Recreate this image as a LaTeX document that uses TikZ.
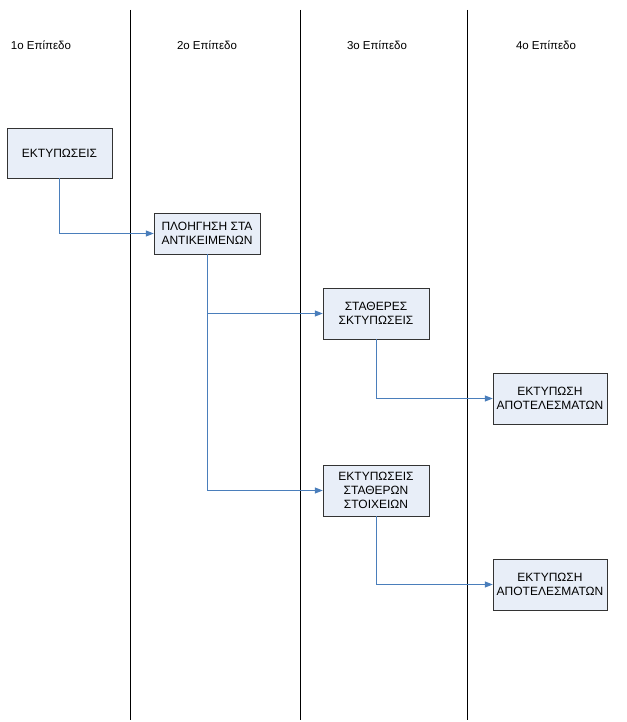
\documentclass[tikz,border=0pt]{standalone}
\usepackage{fontspec}
\setmainfont{Liberation Sans}
\usetikzlibrary{arrows.meta,shadows}
\definecolor{boxfill}{HTML}{E8EEF8}
\definecolor{flowblue}{HTML}{4A7EBB}
\tikzset{
  stage/.style={draw=black!80,fill=boxfill,align=center,inner sep=0pt,
    font=\fontsize{12}{14.3}\selectfont,
    drop shadow={shadow xshift=1pt,shadow yshift=-1pt,fill=black!45,opacity=1}},
  lane/.style={font=\fontsize{11.5}{14}\selectfont},
  flow/.style={->,draw=flowblue,line width=1pt}
}
\begin{document}
\begin{tikzpicture}[x=1pt,y=-1pt,>={Triangle[length=8pt,width=6pt]}]
\useasboundingbox (0,0) rectangle (626,722);
% lanes
\foreach \x in {130,300,467} \draw[black,line width=0.8pt](\x,10)--(\x,720);
\node[lane] (l1) at (41,45) {1o Επίπεδο};
\node[lane] (l2) at (207,45) {2o Επίπεδο};
\node[lane] (l3) at (377,45) {3o Επίπεδο};
\node[lane] (l4) at (546,45) {4o Επίπεδο};
% boxes
\node[stage,minimum width=105pt,minimum height=50pt] (print) at (59.5,153) {ΕΚΤΥΠΩΣΕΙΣ};
\node[stage,minimum width=106pt,minimum height=41pt] (nav) at (207,233.5) {ΠΛΟΗΓΗΣΗ ΣΤΑ\\ΑΝΤΙΚΕΙΜΕΝΩΝ};
\node[stage,minimum width=106pt,minimum height=51pt] (fixed) at (376,313.5) {ΣΤΑΘΕΡΕΣ\\ΣΚΤΥΠΩΣΕΙΣ};
\node[stage,minimum width=114pt,minimum height=51pt] (res1) at (550,398.5) {ΕΚΤΥΠΩΣΗ\\ΑΠΟΤΕΛΕΣΜΑΤΩΝ};
\node[stage,minimum width=106pt,minimum height=51pt] (data) at (376,490.5) {ΕΚΤΥΠΩΣΕΙΣ\\ΣΤΑΘΕΡΩΝ\\ΣΤΟΙΧΕΙΩΝ};
\node[stage,minimum width=114pt,minimum height=51pt] (res2) at (550,584.5) {ΕΚΤΥΠΩΣΗ\\ΑΠΟΤΕΛΕΣΜΑΤΩΝ};
% connectors
\draw[flow](print.south)|-(nav.west);
\draw[flow](nav.south)|-(fixed.west);
\draw[flow](nav.south)|-(data.west);
\draw[flow](fixed.south)|-(res1.west);
\draw[flow](data.south)|-(res2.west);
\end{tikzpicture}
\end{document}
